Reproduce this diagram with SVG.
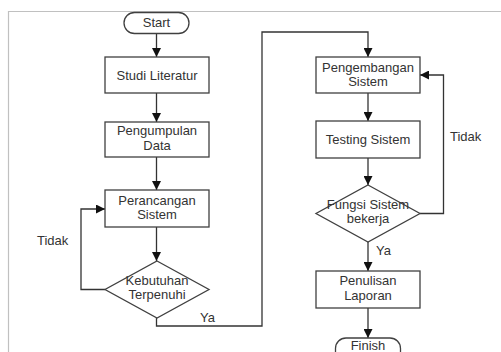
<svg xmlns="http://www.w3.org/2000/svg" width="501" height="352" viewBox="0 0 501 352">
<style>
.frame{fill:none;stroke:#c0c0c0;stroke-width:1.2}
.shape{fill:#fff;stroke:#404040;stroke-width:1.3}
.conn{fill:none;stroke:#333;stroke-width:1.3}
text{font-family:"Liberation Sans",Arial,sans-serif;font-size:13px;fill:#333;text-anchor:middle}
.lbl{text-anchor:start}
</style>
<defs>
<marker id="ah" viewBox="0 0 10 10" refX="10" refY="5" markerWidth="9" markerHeight="9" markerUnits="userSpaceOnUse" orient="auto">
<path d="M0,0 L10,5 L0,10 Z" fill="#111"/>
</marker>
</defs>
<rect width="501" height="352" fill="#fff"/>
<path class="frame" d="M8.5,352 V11.5 H501"/>
<g id="connectors">
<path class="conn" d="M156.5,33 V57" marker-end="url(#ah)"/>
<path class="conn" d="M156.5,93 V122" marker-end="url(#ah)"/>
<path class="conn" d="M156.5,157 V190" marker-end="url(#ah)"/>
<path class="conn" d="M156.5,227 V261" marker-end="url(#ah)"/>
<path class="conn" d="M105,289.5 H81 V209 H105" marker-end="url(#ah)"/>
<path class="conn" d="M156.5,318 V326 H262 V32 H368 V57" marker-end="url(#ah)"/>
<path class="conn" d="M368,93 V121" marker-end="url(#ah)"/>
<path class="conn" d="M368,158 V185" marker-end="url(#ah)"/>
<path class="conn" d="M420,213.5 H443.5 V75 H420" marker-end="url(#ah)"/>
<path class="conn" d="M368,242 V271" marker-end="url(#ah)"/>
<path class="conn" d="M368,308 V338" marker-end="url(#ah)"/>
<text class="lbl" x="37" y="245">Tidak</text>
<text class="lbl" x="200" y="322">Ya</text>
<text class="lbl" x="450" y="141">Tidak</text>
<text class="lbl" x="376" y="255">Ya</text>
</g>
<g id="start">
<rect class="shape" x="124" y="12.5" width="65" height="21" rx="10.5"/>
<text x="156.5" y="27">Start</text>
</g>
<g id="studi">
<rect class="shape" x="105" y="57" width="104" height="36"/>
<text x="157" y="80">Studi Literatur</text>
</g>
<g id="pengumpulan">
<rect class="shape" x="105" y="122" width="104" height="35"/>
<text x="157" y="134.5">Pengumpulan</text>
<text x="157" y="149.5">Data</text>
</g>
<g id="perancangan">
<rect class="shape" x="105" y="190" width="104" height="37"/>
<text x="157" y="204.5">Perancangan</text>
<text x="157" y="218.5">Sistem</text>
</g>
<g id="kebutuhan">
<polygon class="shape" points="157,261 209,289.5 157,318 105,289.5"/>
<text x="157" y="285">Kebutuhan</text>
<text x="157" y="299">Terpenuhi</text>
</g>
<g id="pengembangan">
<rect class="shape" x="316" y="57" width="104" height="36"/>
<text x="368" y="71.5">Pengembangan</text>
<text x="368" y="85.5">Sistem</text>
</g>
<g id="testing">
<rect class="shape" x="316" y="121" width="104" height="37"/>
<text x="368" y="144">Testing Sistem</text>
</g>
<g id="fungsi">
<polygon class="shape" points="368,185 420,213.5 368,242 316,213.5"/>
<text x="368" y="208.5">Fungsi Sistem</text>
<text x="368" y="222.5">bekerja</text>
</g>
<g id="penulisan">
<rect class="shape" x="316" y="271" width="104" height="37"/>
<text x="368" y="285">Penulisan</text>
<text x="368" y="299.5">Laporan</text>
</g>
<g id="finish">
<rect class="shape" x="335.5" y="338" width="65" height="24" rx="10.5"/>
<text x="368" y="349.5">Finish</text>
</g>
</svg>
